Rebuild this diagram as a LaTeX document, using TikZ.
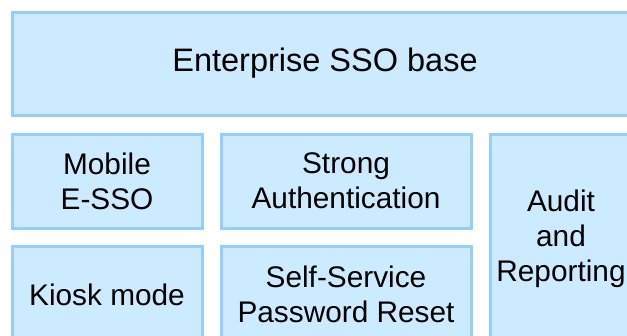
\documentclass[tikz,border=0pt]{standalone}
\usepackage{fontspec}
\setmainfont{Liberation Sans}
\definecolor{boxfill}{RGB}{204,235,255}
\definecolor{boxline}{RGB}{153,204,255}
\begin{document}
\begin{tikzpicture}[x=1pt,y=-1pt,
  blk/.style={rectangle, draw=boxline, fill=boxfill, line width=3pt,
    anchor=north west, inner sep=0pt, align=center,
    font=\fontsize{29.8}{35}\selectfont, text=black},
  bigblk/.style={blk, font=\fontsize{32.5}{38}\selectfont}]
\useasboundingbox (0,0) rectangle (627,335);
\fill[white] (0,0) rectangle (627,335);
\clip (0,0) rectangle (627,335);
\node[bigblk, minimum width=626pt, minimum height=103pt] (base) at (10.5,10.5) {Enterprise SSO base};
\node[blk, minimum width=190pt, minimum height=94pt] (mobile) at (10.5,132.5) {Mobile\\E-SSO};
\node[blk, minimum width=250pt, minimum height=94pt] (strong) at (219.5,132.5) {Strong\\Authentication};
\node[blk, minimum width=190pt, minimum height=97.5pt] (kiosk) at (10.5,244.5) {Kiosk mode};
\node[blk, minimum width=250pt, minimum height=97.5pt] (ssp) at (219.5,244.5) {Self-Service\\Password Reset};
\node[blk, minimum width=142pt, minimum height=209.5pt] (audit) at (488.5,132.5) {Audit\\and\\Reporting};
\end{tikzpicture}
\end{document}
